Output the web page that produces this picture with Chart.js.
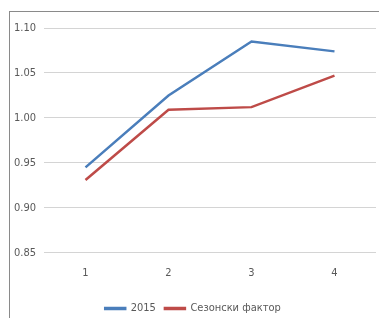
<!DOCTYPE html>
<html>
<head>
<meta charset="utf-8">
<script src="https://cdn.jsdelivr.net/npm/chart.js@4"></script>
<style>
  html, body { margin: 0; padding: 0; background: #fff; }
  #wrap { position: relative; width: 379px; height: 318px; overflow: hidden; }
  #frame { position: absolute; left: 9px; top: 11px; width: 380px; height: 320px;
           border-left: 1px solid #8a8a8a; border-top: 1px solid #8a8a8a; }
  #chart { position: absolute; left: 0; top: 0; }
</style>
</head>
<body>
<div id="wrap">
  <div id="frame"></div>
  <canvas id="chart" width="379" height="324"></canvas>
</div>
<script>
const categories = ['1', '2', '3', '4']
const series2015 = [0.945, 1.025, 1.085, 1.074]
const seasonalFactor = [0.931, 1.009, 1.012, 1.047]
const yTicks = [0.85, 0.90, 0.95, 1.00, 1.05, 1.10]

const blue = '#4a7ebb'
const red = '#be4b48'
const font = { family: "'DejaVu Sans Condensed', 'Liberation Sans Narrow', sans-serif", size: 11 }

const ctx = document.getElementById('chart')

new Chart(ctx, {
    type: 'line',
    data: {
        labels: categories,
        datasets: [{
            label: '2015',
            data: series2015,
            borderColor: blue,
            backgroundColor: blue,
            borderWidth: 2.5,
            pointRadius: 0,
            tension: 0
        }, {
            label: 'Сезонски фактор',
            data: seasonalFactor,
            borderColor: red,
            backgroundColor: red,
            borderWidth: 2.5,
            pointRadius: 0,
            tension: 0
        }]
    },
    options: {
        responsive: false,
        animation: false,
        layout: { padding: { left: 10, top: 28, right: 3, bottom: 0 } },
        plugins: {
            tooltip: { enabled: false },
            legend: {
                position: 'bottom',
                labels: {
                    color: '#595959',
                    font: font,
                    boxWidth: 20,
                    boxHeight: 1,
                    padding: 9
                }
            }
        },
        scales: {
            x: {
                offset: true,
                grid: { display: false, drawTicks: false },
                border: { display: false },
                ticks: { color: '#595959', font: font, padding: 14 }
            },
            y: {
                min: yTicks[0],
                max: yTicks[yTicks.length - 1],
                afterBuildTicks: (scale) => { scale.ticks = yTicks.map(v => ({ value: v })) },
                afterFit: (scale) => { scale.width = 34 },
                grid: { color: '#d4d4d4', lineWidth: 1, drawTicks: false },
                border: { display: false },
                ticks: {
                    color: '#595959',
                    font: font,
                    padding: 8,
                    callback: (v) => Number(v).toFixed(2)
                }
            }
        }
    }
})
</script>
</body>
</html>
